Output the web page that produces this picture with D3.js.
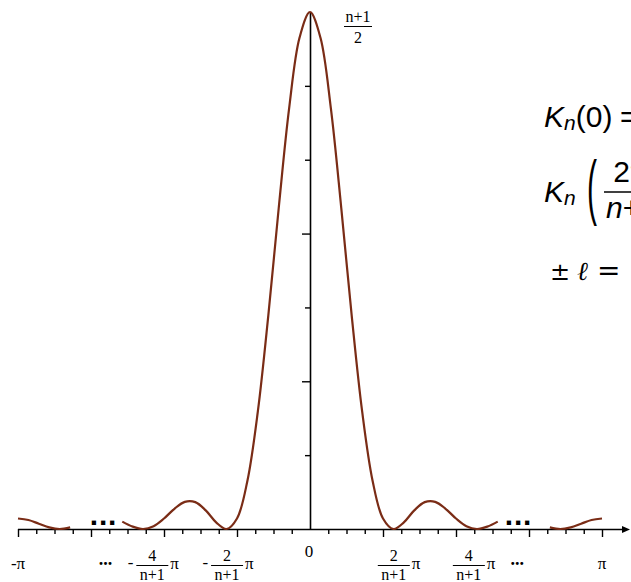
<!DOCTYPE html>
<html><head><meta charset="utf-8">
<script src="https://cdn.jsdelivr.net/npm/d3@7"></script>
<style>body{margin:0;background:#fff}svg{display:block}</style>
</head><body><svg id="c" width="631" height="582"></svg>
<script>
// ---- data (x in units of π) ----
const xSamples = [-1,-0.9643,-0.9286,-0.8929,-0.8571,-0.8214,-0.7857,-0.75,-0.7143,-0.6786,-0.6429,-0.6071,-0.5714,-0.5357,-0.5,-0.4643,-0.4286,-0.3929,-0.3571,-0.3214,-0.2857,-0.25,-0.2143,-0.1786,-0.1429,-0.1071,-0.0714,-0.0357,0,
  0.0357,0.0714,0.1071,0.1429,0.1786,0.2143,0.25,0.2857,0.3214,0.3571,0.3929,0.4286,0.4643,0.5,0.5357,0.5714,0.6071,0.6429,0.6786,0.7143,0.75,0.7857,0.8214,0.8571,0.8929,0.9286,0.9643,1];
const kernelValues = [0.071,0.061,0.036,0.011,0,0.011,0.040,0.071,0.088,0.080,0.050,0.016,0,0.019,0.071,0.137,0.184,0.182,0.126,0.045,0,0.071,0.327,0.796,1.443,2.173,2.849,3.327,3.5,
  3.327,2.849,2.173,1.443,0.796,0.327,0.071,0,0.045,0.126,0.182,0.184,0.137,0.071,0.019,0,0.016,0.050,0.080,0.088,0.071,0.040,0.011,0,0.011,0.036,0.061,0.071];
const visibleRanges = [[-1,-0.786],[-0.643,0.643],[0.786,1]];
const ellipsisMarks = [[-0.707,0.074],[0.714,0.074]];
const xTicks = [-1,-0.9375,-0.875,-0.8125,-0.75,-0.6875,-0.625,-0.5625,-0.5,-0.4375,-0.375,-0.3125,-0.25,-0.1875,-0.125,-0.0625,
  0.0625,0.125,0.1875,0.25,0.3125,0.375,0.4375,0.5,0.5625,0.625,0.6875,0.75,0.8125,0.875,0.9375,1];
const xMajorTicks = [-1,-0.75,-0.5,-0.25,0.25,0.5,0.75,1];
const yTicks = [0.5,1.5,2.5,3];
const yMajorTicks = [1,2];
const simpleLabels = [[-1,"-π"],[-0.70,"..."],[0.71,"..."],[1,"π"]];
const fracLabels = [[-0.54,"-","4"],[-0.284,"-","2"],[0.287,"","2"],[0.544,"","4"]];
const peakValue = 3.5;

// ---- drawing ----
const W = 631, H = 582;
const svg = d3.select("#c");
const x = d3.scaleLinear().domain([-1,1]).range([18,602]);
const y = d3.scaleLinear().domain([0,3.5]).range([529,12]);
const serif = "'Liberation Serif','Times New Roman',serif";
const sans = "'Liberation Sans',Arial,Helvetica,sans-serif";

function xAxis(vals, size){
  svg.append("g").attr("transform",`translate(0,${y(0)})`)
    .call(d3.axisBottom(x).tickValues(vals).tickSize(size).tickFormat(""))
    .call(g=>g.select(".domain").remove())
    .call(g=>g.selectAll("line").attr("stroke","#000").attr("stroke-width",1.4));
}
xAxis(xTicks.filter(v=>!xMajorTicks.includes(v)),5);
xAxis(xMajorTicks,8);
function yAxis(vals, size){
  svg.append("g").attr("transform",`translate(${x(0)},0)`)
    .call(d3.axisLeft(y).tickValues(vals).tickSize(size).tickFormat(""))
    .call(g=>g.select(".domain").remove())
    .call(g=>g.selectAll("line").attr("stroke","#000").attr("stroke-width",1.4));
}
yAxis(yTicks,5);
yAxis(yMajorTicks,8);

svg.append("line").attr("x1",x(-1)).attr("x2",W-6).attr("y1",y(0)+0.5).attr("y2",y(0)+0.5)
  .attr("stroke","#000").attr("stroke-width",1.6);
svg.append("path").attr("d",`M${W-1},${y(0)+0.5}L${W-9},${y(0)-3}L${W-9},${y(0)+4}Z`).attr("fill","#000");
svg.append("line").attr("x1",x(0)+0.5).attr("x2",x(0)+0.5).attr("y1",y(peakValue)).attr("y2",y(0)+1)
  .attr("stroke","#000").attr("stroke-width",1.6);

const pts = xSamples.map((u,i)=>[u,kernelValues[i]]);
const line = d3.line().x(d=>x(d[0])).y(d=>y(Math.max(0,d[1]))).curve(d3.curveCatmullRom.alpha(0.5));
visibleRanges.forEach(([a,b])=>{
  const seg = pts.filter(p=>p[0]>=a-1e-6 && p[0]<=b+1e-6);
  svg.append("path").attr("d",line(seg)).attr("fill","none")
    .attr("stroke","#7a2c16").attr("stroke-width",2.2).attr("stroke-linejoin","round");
});

ellipsisMarks.forEach(([u,v])=>{
  svg.append("text").attr("x",x(u)).attr("y",y(v)+7).attr("text-anchor","middle")
    .attr("font-family",sans).attr("font-weight","bold").attr("font-size",30)
    .attr("letter-spacing",0.8).text("...");
});

simpleLabels.forEach(([u,t])=>{
  svg.append("text").attr("x",x(u)).attr("y",t==="..."?565:569).attr("text-anchor","middle")
    .attr("font-family",serif).attr("font-size",t==="..."?18:17).attr("font-weight",t==="..."?"bold":"normal")
    .text(t);
});
svg.append("text").attr("x",x(0)-1).attr("y",557).attr("text-anchor","middle")
  .attr("font-family",serif).attr("font-size",17).text("0");
fracLabels.forEach(([u,s,num])=>{
  const cx = x(u);
  const g = svg.append("g").attr("font-family",serif).attr("font-size",16);
  g.append("text").attr("x",cx).attr("y",561).attr("text-anchor","middle").text(num);
  g.append("line").attr("x1",cx-16).attr("x2",cx+16).attr("y1",565.5).attr("y2",565.5).attr("stroke","#000").attr("stroke-width",1);
  g.append("text").attr("x",cx).attr("y",580).attr("text-anchor","middle").text("n+1");
  if(s) g.append("text").attr("x",cx-19).attr("y",568).attr("text-anchor","end").attr("font-size",17).text(s);
  g.append("text").attr("x",cx+18).attr("y",569).attr("font-size",17).text("π");
});

{
  const cx = x(0)+48;
  const g = svg.append("g").attr("font-family",serif).attr("font-size",16);
  g.append("text").attr("x",cx).attr("y",22).attr("text-anchor","middle").text("n+1");
  g.append("line").attr("x1",cx-14).attr("x2",cx+14).attr("y1",26.5).attr("y2",26.5).attr("stroke","#000").attr("stroke-width",1);
  g.append("text").attr("x",cx).attr("y",43).attr("text-anchor","middle").text("2");
}

{
  const t1 = svg.append("text").attr("x",544).attr("y",127).attr("font-family",sans).attr("font-size",30);
  t1.append("tspan").attr("font-style","italic").text("K");
  t1.append("tspan").attr("font-style","italic").attr("font-size",21).attr("dy",3).text("n");
  t1.append("tspan").attr("dy",-3).text("(0)");
  t1.append("tspan").attr("x",620).text("=");

  const t2 = svg.append("text").attr("x",544).attr("y",202).attr("font-family",sans).attr("font-size",30);
  t2.append("tspan").attr("font-style","italic").text("K");
  t2.append("tspan").attr("font-style","italic").attr("font-size",21).attr("dy",3).text("n");
  svg.append("text").attr("transform","translate(587,211) scale(1,2.4)")
    .attr("font-family",sans).attr("font-size",30).text("(");
  svg.append("text").attr("x",632).attr("y",182).attr("text-anchor","middle").attr("font-family",sans).attr("font-size",30).text("2π");
  svg.append("line").attr("x1",604).attr("x2",W+10).attr("y1",192).attr("y2",192).attr("stroke","#000").attr("stroke-width",1.5);
  const den = svg.append("text").attr("x",606).attr("y",218).attr("font-family",sans).attr("font-size",30);
  den.append("tspan").attr("font-style","italic").text("n");
  den.append("tspan").text("+1");

  svg.append("text").attr("x",550).attr("y",280).attr("font-family","'DejaVu Serif',serif").attr("font-size",24).text("±");
  svg.append("text").attr("x",577).attr("y",280).attr("font-family","'DejaVu Serif',serif").attr("font-style","italic").attr("font-size",26).text("ℓ");
  svg.append("text").attr("x",597).attr("y",280).attr("font-family","'DejaVu Serif',serif").attr("font-size",28).text("=");
}
</script></body></html>
